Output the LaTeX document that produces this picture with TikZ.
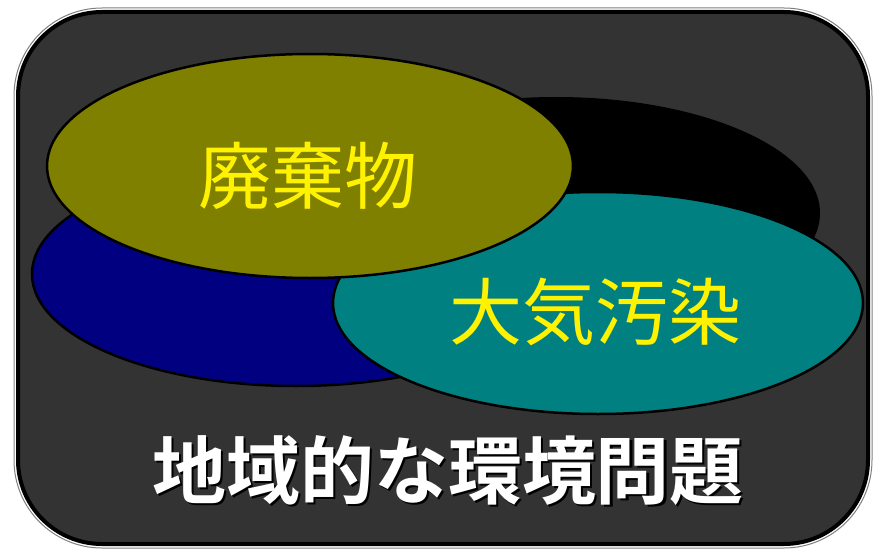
\documentclass[tikz,border=0pt]{standalone}
\usepackage{fontspec}
\newfontfamily\cjk{Noto Sans CJK JP}
\newfontfamily\cjkbold{Noto Sans CJK JP Bold}
\definecolor{panelgray}{HTML}{333333}
\definecolor{wasteolive}{HTML}{808000}
\definecolor{areanavy}{HTML}{000080}
\definecolor{airteal}{HTML}{008080}
\begin{document}
\begin{tikzpicture}[x=1pt,y=-1pt,
    blob/.style = {draw=black, line width=2.5pt},
    label/.style = {text=yellow, font=\cjk\fontsize{73}{80}\selectfont},
    title/.style = {font=\cjkbold\fontsize{74}{80}\selectfont}]
    \useasboundingbox (0,0) rectangle (876,551);
    % panel
    \draw[gray, line width=1pt, rounded corners=88pt] (14,8) rectangle (872,548);
    \draw[fill=panelgray, draw=black, line width=4pt, rounded corners=84pt] (18,12) rectangle (868,544);
    % overlapping areas
    \fill[black] (556,213) ellipse (264pt and 116pt);
    \draw[blob, fill=areanavy] (296,274) ellipse (264pt and 112pt);
    \draw[blob, fill=airteal] (598,303) ellipse (265pt and 111pt);
    \draw[blob, fill=wasteolive] (310,166) ellipse (263pt and 112pt);
    \node[label] (waste) at (308,176) {廃棄物};
    \node[label] (air) at (595,312) {大気汚染};
    % caption with shadow
    \node[title, text=black] (shadow) at (450,473) {地域的な環境問題};
    \node[title, text=white] (caption) at (448,471) {地域的な環境問題};
\end{tikzpicture}
\end{document}
